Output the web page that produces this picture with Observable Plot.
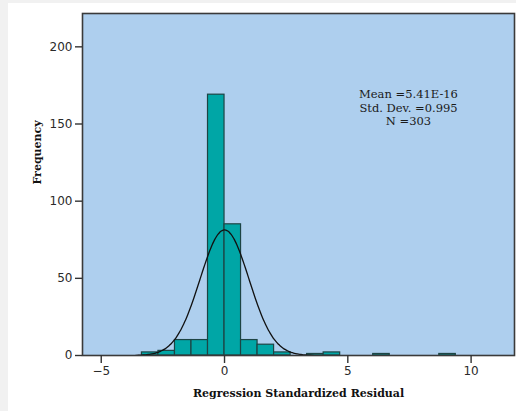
<!DOCTYPE html>
<html>
<head>
<meta charset="utf-8">
<script src="https://cdn.jsdelivr.net/npm/d3@7"></script>
<script src="https://cdn.jsdelivr.net/npm/@observablehq/plot@0.6"></script>
<style>
  html, body { margin: 0; padding: 0; background: #f1f1f1; width: 516px; height: 411px; overflow: hidden; }
  #chart { position: absolute; left: 8px; top: 3px; width: 508px; height: 408px; background: #ffffff; }
</style>
</head>
<body>
<div id="chart"></div>
<script>
// Histogram of regression standardized residuals (SPSS-style)
const binWidth = 0.67;
const binStarts = [-3.35, -2.68, -2.01, -1.34, -0.67, 0, 0.67, 1.34, 2.01, 3.35, 4.02, 6.03, 8.71];
const counts    = [2, 3, 10, 10, 169, 85, 10, 7, 2, 1, 2, 1, 1];
const statsMean = 5.41e-16;
const statsSD = 0.995;
const statsN = 303;
const statsLines = ["Mean =5.41E-16", "Std. Dev. =0.995", "N =303"];
const xTicks = [-5, 0, 5, 10];
const yTicks = [0, 50, 100, 150, 200];
const xTitle = "Regression Standardized Residual";
const yTitle = "Frequency";

const bins = binStarts.map((s, i) => ({x1: s, x2: s + binWidth, count: counts[i]}));

// fitted normal curve from the reported mean / sd / N
const curveXs = d3.range(-3.6, 3.6001, 0.05);
const curve = curveXs.map(x => ({
  x,
  y: statsN * binWidth / (statsSD * Math.sqrt(2 * Math.PI)) *
     Math.exp(-0.5 * ((x - statsMean) / statsSD) ** 2)
}));

const serif = "'DejaVu Serif', serif";

const chart = Plot.plot({
  width: 508,
  height: 408,
  marginLeft: 74,
  marginRight: 2,
  marginTop: 10,
  marginBottom: 56,
  style: {background: "transparent", fontFamily: "'DejaVu Sans', sans-serif", fontSize: "12px", color: "#222"},
  x: {domain: [-5.76, 11.76]},
  y: {domain: [0, 221.6]},
  marks: [
    Plot.frame({fill: "#aecfee", stroke: null}),
    Plot.rectY(bins, {x1: "x1", x2: "x2", y: "count", fill: "#00a6a6", stroke: "#1d4444", strokeWidth: 1.2, insetLeft: 0, insetRight: 0}),
    Plot.line(curve, {x: "x", y: "y", stroke: "#111", strokeWidth: 1.3, curve: "basis"}),
    Plot.frame({stroke: "#3a3a3a", strokeWidth: 1.6}),
    Plot.axisY({ticks: yTicks, tickSize: 7, tickPadding: 3, label: null, stroke: "#333", strokeWidth: 1.4, fill: "#2a2a2a", fontSize: 12}),
    Plot.axisX({ticks: xTicks, tickSize: 8, tickPadding: 3, label: null, stroke: "#333", strokeWidth: 1.4, fill: "#2a2a2a", fontSize: 12}),
    Plot.text([statsLines.join("\n")], {x: 7.46, y: 160.8, text: d => d, fontFamily: serif, fontSize: 11.5, lineHeight: 1.15, fill: "#1a1a1a", textAnchor: "middle"}),
    Plot.text([xTitle], {frameAnchor: "bottom", dy: 41, text: d => d, fontFamily: serif, fontWeight: "bold", fontSize: 11, fill: "#111"}),
    Plot.text([yTitle], {frameAnchor: "left", dx: -45, rotate: -90, text: d => d, fontFamily: serif, fontWeight: "bold", fontSize: 11, fill: "#111"})
  ]
});
document.getElementById("chart").appendChild(chart);
</script>
</body>
</html>
